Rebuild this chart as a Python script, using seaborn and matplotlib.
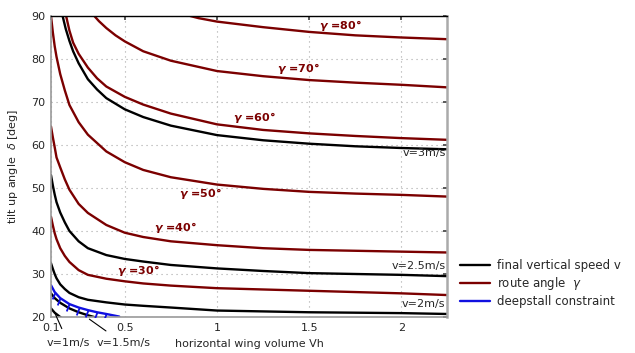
import matplotlib
matplotlib.use("Agg")
import matplotlib.pyplot as plt
import seaborn as sns

sns.set_theme(style="white")
plt.rcParams["font.family"] = ["DejaVu Sans"]
plt.rcParams["mathtext.fontset"] = "dejavusans"

DARKRED = "#7b0000"
BLUE = "#1010e0"

# common x grid for curves starting at the left edge
xs = [0.1, 0.11, 0.12, 0.13, 0.15, 0.175, 0.2, 0.25, 0.3, 0.4, 0.5, 0.6, 0.75,
      1.0, 1.25, 1.5, 1.75, 2.0, 2.25]

# route angle curves
gamma80_x = [0.855, 0.9, 1.0, 1.25, 1.5, 1.75, 2.0, 2.25]
gamma80_y = [90, 89.5, 88.7, 87.4, 86.3, 85.5, 85.0, 84.6]
gamma70_x = [0.335, 0.36, 0.4, 0.45, 0.5, 0.6, 0.75, 1.0, 1.25, 1.5, 1.75, 2.0, 2.25]
gamma70_y = [90, 88.8, 87.2, 85.5, 84.1, 81.8, 79.6, 77.2, 76.0, 75.1, 74.5, 74.0, 73.4]
gamma60_x = [0.182, 0.2, 0.22, 0.25, 0.3, 0.35, 0.4, 0.5, 0.6, 0.75, 1.0, 1.25, 1.5,
             1.75, 2.0, 2.25]
gamma60_y = [90, 86.6, 83.8, 81.2, 78.0, 75.5, 73.6, 71.2, 69.4, 67.3, 64.8, 63.5, 62.7,
             62.1, 61.6, 61.2]
gamma50_y = [90, 86.2, 83.0, 80.5, 76.5, 72.7, 69.3, 65.3, 62.4, 58.5, 56.0, 54.2, 52.5,
             50.8, 49.8, 49.1, 48.7, 48.4, 48.0]
gamma40_y = [64.3, 61.8, 59.5, 57.1, 54.8, 52.0, 49.6, 46.3, 44.2, 41.4, 39.6, 38.6, 37.6,
             36.7, 36.0, 35.6, 35.4, 35.2, 35.0]
gamma30_y = [43.3, 41.3, 39.5, 38.1, 36.0, 34.2, 32.8, 30.9, 29.8, 28.9, 28.3, 27.8, 27.3,
             26.7, 26.4, 26.1, 25.8, 25.5, 25.1]

# final vertical speed curves
v3_x = [0.163, 0.18, 0.2, 0.22, 0.25, 0.3, 0.35, 0.4, 0.5, 0.6, 0.75, 1.0, 1.25, 1.5,
        1.75, 2.0, 2.25]
v3_y = [90, 87.0, 84.2, 81.8, 79.0, 75.3, 72.9, 70.9, 68.3, 66.5, 64.5, 62.3, 61.1, 60.3,
        59.7, 59.3, 59.0]
v25_y = [53.0, 50.6, 48.5, 46.7, 44.3, 42.0, 40.0, 37.6, 36.0, 34.4, 33.5, 32.9, 32.1,
         31.3, 30.7, 30.2, 30.0, 29.8, 29.5]
v2_y = [32.5, 31.2, 30.0, 29.0, 27.6, 26.5, 25.6, 24.6, 24.0, 23.4, 22.9, 22.6, 22.2,
        21.5, 21.3, 21.1, 21.0, 20.9, 20.7]
v15_x = [0.1, 0.12, 0.15, 0.2, 0.25, 0.3, 0.35, 0.4]
v15_y = [25.5, 24.4, 23.3, 22.0, 21.1, 20.4, 19.8, 19.3]
v1_x = [0.1, 0.12, 0.15, 0.17]
v1_y = [22.0, 21.0, 20.0, 19.3]

# deepstall constraint
deep_x = [0.1, 0.12, 0.15, 0.2, 0.25, 0.3, 0.35, 0.4, 0.47]
deep_y = [27.4, 25.8, 24.4, 23.0, 22.2, 21.6, 21.1, 20.7, 20.1]

x_ticks = [0.1, 0.5, 1, 1.5, 2]
x_tick_labels = ["0.1", "0.5", "1", "1.5", "2"]
y_ticks = [20, 30, 40, 50, 60, 70, 80, 90]

gamma_labels = ["80", "70", "60", "50", "40", "30"]
gamma_label_x = [1.668, 1.444, 1.205, 0.911, 0.775, 0.575]
gamma_label_y = [87.9, 77.9, 66.3, 48.8, 40.9, 30.9]

fig = plt.figure(figsize=(6.35, 3.53), dpi=100)
ax = fig.add_axes([0.0803, 0.102, 0.6244, 0.8527])

lw = 1.7
red_curves = [(gamma80_x, gamma80_y), (gamma70_x, gamma70_y), (gamma60_x, gamma60_y),
              (xs, gamma50_y), (xs, gamma40_y), (xs, gamma30_y)]
black_curves = [(v3_x, v3_y), (xs, v25_y), (xs, v2_y), (v15_x, v15_y), (v1_x, v1_y)]

for cx, cy in red_curves:
    sns.lineplot(x=cx, y=cy, color=DARKRED, linewidth=lw, sort=False, estimator=None, ax=ax)
for cx, cy in black_curves:
    sns.lineplot(x=cx, y=cy, color="black", linewidth=lw, sort=False, estimator=None, ax=ax)

sns.lineplot(x=deep_x, y=deep_y, color=BLUE, linewidth=lw, sort=False, estimator=None, ax=ax)
# hatch ticks under the constraint line
ax.plot(deep_x[1:-1], deep_y[1:-1], ls="none", marker=[(0, 0), (-0.4, -1)],
        ms=10, mec=BLUE, mew=1.3, fillstyle="none", zorder=5)

# legend handles
ax.plot([], [], color="black", lw=lw, label="final vertical speed v")
ax.plot([], [], color=DARKRED, lw=lw, label=r"route angle  $\gamma$")
ax.plot([], [], color=BLUE, lw=lw, label="deepstall constraint")

ax.set_xlim(0.1, 2.25)
ax.set_ylim(20, 90)
ax.set_xticks(x_ticks)
ax.set_xticklabels(x_tick_labels)
ax.set_yticks(y_ticks)
ax.tick_params(labelsize=8, direction="in", length=3, color="#444444", pad=4,
               right=True, top=True)
ax.grid(True, linestyle=(0, (1, 3.5)), color="#a8a8a8", linewidth=0.8)

ax.set_xlabel("horizontal wing volume Vh", fontsize=8)
ax.set_ylabel(r"tilt up angle  $\delta$ [deg]", fontsize=8)
ax.xaxis.labelpad = 5
ax.yaxis.labelpad = 8

for side in ["left", "bottom"]:
    ax.spines[side].set_color("#999999")
    ax.spines[side].set_linewidth(1.2)
ax.spines["top"].set_color("black")
ax.spines["top"].set_linewidth(1.0)
ax.spines["right"].set_color("#aaaaaa")
ax.spines["right"].set_linewidth(1.8)

for lab, lx, ly in zip(gamma_labels, gamma_label_x, gamma_label_y):
    ax.text(lx, ly, r"$\boldsymbol{\gamma}$ =" + lab + "°", color=DARKRED,
            fontsize=8, fontweight="bold", ha="center", va="center")

ax.text(2.24, 58.1, "v=3m/s", fontsize=8, ha="right", va="center")
ax.text(2.24, 31.9, "v=2.5m/s", fontsize=8, ha="right", va="center")
ax.text(2.24, 23.0, "v=2m/s", fontsize=8, ha="right", va="center")

ax.annotate("v=1m/s", xy=(0.118, 21.2), xytext=(0.194, 13.9), fontsize=8,
            ha="center", va="center", annotation_clip=False,
            arrowprops=dict(arrowstyle="-", color="black", lw=0.8, shrinkA=5, shrinkB=0))
ax.annotate("v=1.5m/s", xy=(0.308, 19.5), xytext=(0.492, 13.9), fontsize=8,
            ha="center", va="center", annotation_clip=False,
            arrowprops=dict(arrowstyle="-", color="black", lw=0.8, shrinkA=5, shrinkB=0))

fig.legend(loc="upper left", bbox_to_anchor=(0.725, 0.265), frameon=False,
           fontsize=8.5, handlelength=2.5, handletextpad=0.6, labelspacing=0.25,
           borderaxespad=0, borderpad=0)

fig.savefig("out.png", dpi=100)
